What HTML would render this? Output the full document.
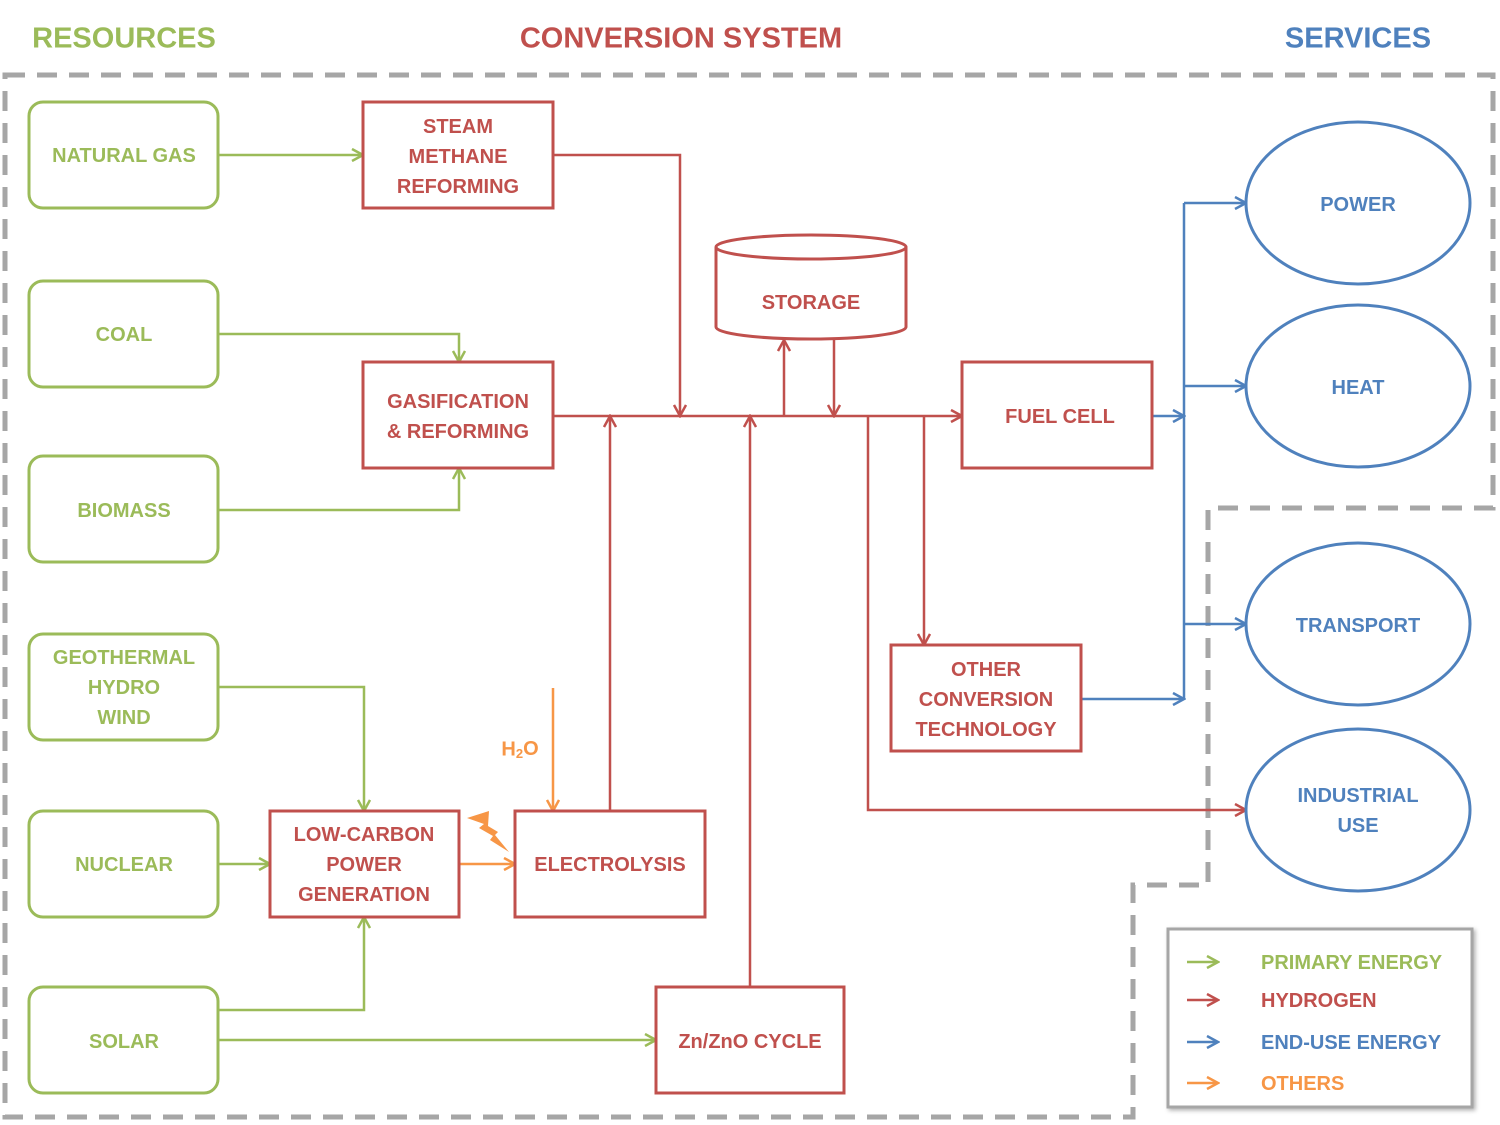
<!DOCTYPE html>
<html><head><meta charset="utf-8"><style>
html,body{margin:0;padding:0;background:#fff}
svg{display:block}
text{font-family:"Liberation Sans",sans-serif;font-weight:bold;text-anchor:middle;dominant-baseline:middle}
</style></head><body>
<svg width="1500" height="1125" viewBox="0 0 1500 1125" xmlns="http://www.w3.org/2000/svg">
<defs>
<marker id="ag" markerWidth="14" markerHeight="14" refX="12" refY="7" orient="auto" markerUnits="userSpaceOnUse"><path d="M1,1 L12,7 L1,13" fill="none" stroke="#9bbb59" stroke-width="2.5"/></marker>
<marker id="ar" markerWidth="14" markerHeight="14" refX="12" refY="7" orient="auto" markerUnits="userSpaceOnUse"><path d="M1,1 L12,7 L1,13" fill="none" stroke="#c0504d" stroke-width="2.5"/></marker>
<marker id="ab" markerWidth="14" markerHeight="14" refX="12" refY="7" orient="auto" markerUnits="userSpaceOnUse"><path d="M1,1 L12,7 L1,13" fill="none" stroke="#4f81bd" stroke-width="2.5"/></marker>
<marker id="ao" markerWidth="14" markerHeight="14" refX="12" refY="7" orient="auto" markerUnits="userSpaceOnUse"><path d="M1,1 L12,7 L1,13" fill="none" stroke="#f79646" stroke-width="2.5"/></marker>
<filter id="sh"><feDropShadow dx="2" dy="2" stdDeviation="2" flood-color="#000" flood-opacity="0.3"/></filter>
</defs>

<text x="124" y="40" font-size="29" fill="#9bbb59">RESOURCES</text>
<text x="681" y="40" font-size="29" fill="#c0504d">CONVERSION SYSTEM</text>
<text x="1358" y="40" font-size="29" fill="#4f81bd">SERVICES</text>

<path d="M5,75 H1493 V508 H1208 V885 H1133 V1117 H5 Z" fill="none" stroke="#a6a6a6" stroke-width="5" stroke-dasharray="20,12"/>

<g fill="#fff" stroke="#9bbb59" stroke-width="3">
<rect x="29" y="102" width="189" height="106" rx="14"/>
<rect x="29" y="281" width="189" height="106" rx="14"/>
<rect x="29" y="456" width="189" height="106" rx="14"/>
<rect x="29" y="634" width="189" height="106" rx="14"/>
<rect x="29" y="811" width="189" height="106" rx="14"/>
<rect x="29" y="987" width="189" height="106" rx="14"/>
</g>
<g font-size="20" fill="#9bbb59" transform="translate(0,1.5)">
<text x="124" y="155">NATURAL GAS</text>
<text x="124" y="334">COAL</text>
<text x="124" y="510">BIOMASS</text>
<text x="124" y="657">GEOTHERMAL</text>
<text x="124" y="687">HYDRO</text>
<text x="124" y="717">WIND</text>
<text x="124" y="864">NUCLEAR</text>
<text x="124" y="1041">SOLAR</text>
</g>

<g fill="none" stroke="#9bbb59" stroke-width="2.5">
<path d="M218,155 H363" marker-end="url(#ag)"/>
<path d="M218,334 H459 V362" marker-end="url(#ag)"/>
<path d="M218,510 H459 V468" marker-end="url(#ag)"/>
<path d="M218,687 H364 V811" marker-end="url(#ag)"/>
<path d="M218,864 H270" marker-end="url(#ag)"/>
<path d="M218,1010 H364 V917" marker-end="url(#ag)"/>
<path d="M218,1040 H656" marker-end="url(#ag)"/>
</g>

<g fill="none" stroke="#c0504d" stroke-width="2.5">
<path d="M553,155 H680 V416" marker-end="url(#ar)"/>
<path d="M553,416 H962" marker-end="url(#ar)"/>
<path d="M610,811 V416" marker-end="url(#ar)"/>
<path d="M750,987 V416" marker-end="url(#ar)"/>
<path d="M784,416 V340" marker-end="url(#ar)"/>
<path d="M834,340 V416" marker-end="url(#ar)"/>
<path d="M868,416 V810 H1246" marker-end="url(#ar)"/>
<path d="M924,416 V645" marker-end="url(#ar)"/>
</g>

<g fill="none" stroke="#4f81bd" stroke-width="2.5">
<path d="M1152,416 H1184" marker-end="url(#ab)"/>
<path d="M1184,203 V699"/>
<path d="M1184,203 H1246" marker-end="url(#ab)"/>
<path d="M1184,386 H1246" marker-end="url(#ab)"/>
<path d="M1184,624 H1246" marker-end="url(#ab)"/>
<path d="M1081,699 H1184" marker-end="url(#ab)"/>
</g>

<g fill="none" stroke="#f79646" stroke-width="2.5">
<path d="M553,688 V811" marker-end="url(#ao)"/>
<path d="M459,864 H515" marker-end="url(#ao)"/>
</g>
<path d="M467,818 L489,811 L488,826 L498,832 L495,835 L509,852 L490,840 L493,836 L479,828 L484,824 Z" fill="#f79646"/>
<text x="520" y="750" font-size="20" fill="#f79646" font-weight="normal">H<tspan font-size="13" dy="5">2</tspan><tspan dy="-5">O</tspan></text>

<g fill="#fff" stroke="#c0504d" stroke-width="3">
<rect x="363" y="102" width="190" height="106"/>
<rect x="363" y="362" width="190" height="106"/>
<rect x="962" y="362" width="190" height="106"/>
<rect x="891" y="645" width="190" height="106"/>
<rect x="270" y="811" width="189" height="106"/>
<rect x="515" y="811" width="190" height="106"/>
<rect x="656" y="987" width="188" height="106"/>
<path d="M716,247 V327 A95,12 0 0 0 906,327 V247"/>
<ellipse cx="811" cy="247" rx="95" ry="12"/>
</g>
<g font-size="20" fill="#c0504d" transform="translate(0,1.5)">
<text x="458" y="126">STEAM</text>
<text x="458" y="156">METHANE</text>
<text x="458" y="186">REFORMING</text>
<text x="458" y="401">GASIFICATION</text>
<text x="458" y="431">&amp; REFORMING</text>
<text x="1060" y="416">FUEL CELL</text>
<text x="811" y="302">STORAGE</text>
<text x="986" y="669">OTHER</text>
<text x="986" y="699">CONVERSION</text>
<text x="986" y="729">TECHNOLOGY</text>
<text x="364" y="834">LOW-CARBON</text>
<text x="364" y="864">POWER</text>
<text x="364" y="894">GENERATION</text>
<text x="610" y="864">ELECTROLYSIS</text>
<text x="750" y="1041">Zn/ZnO CYCLE</text>
</g>

<g fill="#fff" stroke="#4f81bd" stroke-width="3">
<ellipse cx="1358" cy="203" rx="112" ry="81"/>
<ellipse cx="1358" cy="386" rx="112" ry="81"/>
<ellipse cx="1358" cy="624" rx="112" ry="81"/>
<ellipse cx="1358" cy="810" rx="112" ry="81"/>
</g>
<g font-size="20" fill="#4f81bd" transform="translate(0,1.5)">
<text x="1358" y="204">POWER</text>
<text x="1358" y="387">HEAT</text>
<text x="1358" y="625">TRANSPORT</text>
<text x="1358" y="795">INDUSTRIAL</text>
<text x="1358" y="825">USE</text>
</g>

<rect x="1168" y="929" width="304" height="178" fill="#fff" stroke="#a6a6a6" stroke-width="3" filter="url(#sh)"/>
<g stroke-width="2.5" fill="none">
<path d="M1187,962 H1218" stroke="#9bbb59" marker-end="url(#ag)"/>
<path d="M1187,1000 H1218" stroke="#c0504d" marker-end="url(#ar)"/>
<path d="M1187,1042 H1218" stroke="#4f81bd" marker-end="url(#ab)"/>
<path d="M1187,1083 H1218" stroke="#f79646" marker-end="url(#ao)"/>
</g>
<g font-size="20" transform="translate(0,1.5)">
<text x="1261" y="962" fill="#9bbb59" style="text-anchor:start">PRIMARY ENERGY</text>
<text x="1261" y="1000" fill="#c0504d" style="text-anchor:start">HYDROGEN</text>
<text x="1261" y="1042" fill="#4f81bd" style="text-anchor:start">END-USE ENERGY</text>
<text x="1261" y="1083" fill="#f79646" style="text-anchor:start">OTHERS</text>
</g>
</svg>
</body></html>
